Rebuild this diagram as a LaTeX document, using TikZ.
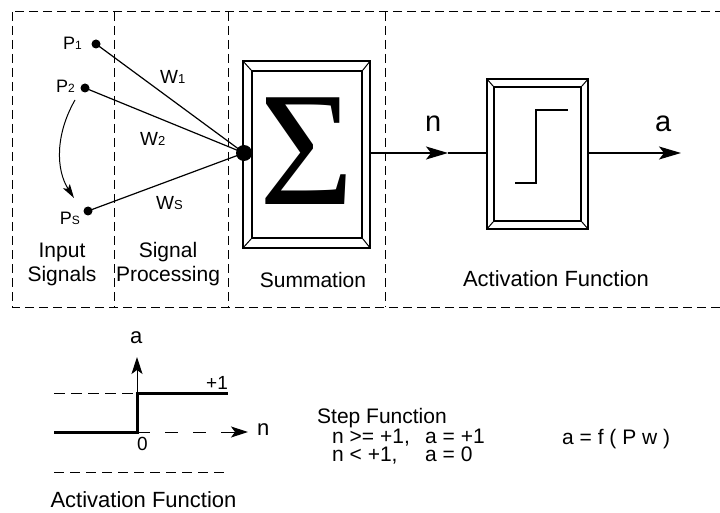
\documentclass[tikz,border=0pt]{standalone}
\usepackage{fontspec}
\setmainfont{Liberation Sans}
\newfontfamily\serifsig{Liberation Serif}
\usetikzlibrary{arrows.meta}
\newcommand\psub[1]{{\fontsize{12}{12}\selectfont #1}}
\newcommand\wsub[1]{{\fontsize{13}{13}\selectfont #1}}
\begin{document}
\begin{tikzpicture}[x=1pt,y=-1pt,line join=miter,
  region/.style={dash pattern=on 9pt off 5pt,line width=1pt},
  wire/.style={line width=1.2pt},
  thickline/.style={line width=3pt},
  txt/.style={inner sep=0pt,font=\fontsize{21}{24}\selectfont},
  bigtxt/.style={inner sep=0pt,font=\fontsize{29}{32}\selectfont},
  plab/.style={inner sep=0pt,anchor=base east,font=\fontsize{18}{18}\selectfont},
  wlab/.style={inner sep=0pt,anchor=base west,font=\fontsize{19}{19}\selectfont},
  dot/.style={circle,fill=black,inner sep=0pt,minimum size=9pt},
  bigdot/.style={circle,fill=black,inner sep=0pt,minimum size=16pt},
  frame/.style={draw,line width=1.2pt,inner sep=0pt},
  innerframe/.style={draw,line width=1.7pt,inner sep=0pt},
  bigtip/.style={-{Stealth[length=22pt,width=13pt,inset=5pt]}},
  smalltip/.style={-{Stealth[length=17pt,width=11pt,inset=4pt]}}
]
\useasboundingbox (0,0) rectangle (720,513);
% dashed regions
\draw[region] (12,12) rectangle (745,307);
\draw[region] (114,12) -- (114,307);
\draw[region] (228,12) -- (228,307);
\draw[region] (385,12) -- (385,307);

% input points
\node[dot] (p1) at (96,44) {};
\node[dot] (p2) at (85,88) {};
\node[dot] (ps) at (88,211) {};
\node[plab] (p1l) at (82,50) {P\psub{1}};
\node[plab] (p2l) at (75,93) {P\psub{2}};
\node[plab] (psl) at (80,225) {P\psub{S}};

% summation box
\node[frame,minimum width=127pt,minimum height=187pt] (sumout) at (306.5,154.5) {};
\node[innerframe,minimum width=110pt,minimum height=167pt] (sumin) at (307,154.5) {};
\foreach \c in {north west,north east,south west,south east}
  \draw[line width=1pt] (sumout.\c) -- (sumin.\c);
\node[inner sep=0pt,font=\serifsig\fontsize{163}{163}\selectfont] (sigma) at (307,151) {Σ};

% weight lines
\draw[wire] (p1.center) -- (244,153) coordinate (sumc);
\draw[wire] (p2.center) -- (sumc);
\draw[wire] (ps.center) -- (sumc);
\node[bigdot] (sumdot) at (sumc) {};
\node[wlab] (w1) at (160,84) {W\wsub{1}};
\node[wlab] (w2) at (140,146) {W\wsub{2}};
\node[wlab] (ws) at (156,210) {W\wsub{S}};

% curved arrow P2 -> Ps
\coordinate (cstart) at (75,100);
\coordinate (cend) at (74,198);
\draw[line width=1pt,-{Stealth[length=14pt,width=8pt,inset=3pt]}] (cstart) .. controls (55,135) and (56,170) .. (cend);

% activation box
\node[frame,minimum width=101pt,minimum height=150pt] (actout) at (537.5,154) {};
\node[innerframe,minimum width=87pt,minimum height=134pt] (actin) at (537.5,154) {};
\foreach \c in {north west,north east,south west,south east}
  \draw[line width=1pt] (actout.\c) -- (actin.\c);
\draw[line width=2.6pt] (515,183) -- (536,183) -- (536,110) -- (568,110);

% n and a arrows
\coordinate (nmid) at (448,153);
\draw[wire,bigtip] (sumout.east |- nmid) -- (nmid);
\draw[wire] (nmid) -- (actout.west |- nmid);
\coordinate (aend) at (681,153);
\draw[wire,bigtip] (actout.east |- aend) -- (aend);
\node[bigtxt,anchor=base west] (nlab) at (425,132) {n};
\node[bigtxt,anchor=base west] (alab) at (655,132) {a};

% region labels
\node[txt,align=center,anchor=base] (inlab) at (62,281) {Input\\Signals};
\node[txt,align=center,anchor=base] (splab) at (168,281) {Signal\\Processing};
\node[txt,anchor=base] (sumlab) at (313,287) {Summation};
\node[txt,font=\fontsize{22}{25}\selectfont,anchor=base] (actlab) at (556,286) {Activation Function};

% bottom graph
\coordinate (origin) at (137,432);
\coordinate (ytip) at (137,357);
\coordinate (xdash) at (230,432);
\coordinate (xtip) at (248,432);
\draw[line width=1pt,smalltip] (origin) -- (ytip);
\draw[line width=1pt,dash pattern=on 11pt off 6pt] (54,393) -- (137,393);
\draw[thickline,line cap=butt] (54,432) -- (origin) -- (137,393) -- (228,393);
\draw[line width=1pt,dash pattern=on 13pt off 15pt] (origin) -- (xdash);
\draw[line width=1pt,smalltip] (xdash) -- (xtip);
\draw[line width=1pt,dash pattern=on 10pt off 6pt] (54,472) -- (228,472);
\node[txt,font=\fontsize{22}{22}\selectfont,anchor=base west] (ga) at (130,343) {a};
\node[txt,font=\fontsize{22}{22}\selectfont,anchor=base west] (gn) at (257,435) {n};
\node[txt,font=\fontsize{19}{19}\selectfont,anchor=base west] (g0) at (137,450) {0};
\node[txt,font=\fontsize{19}{19}\selectfont,anchor=base west] (g1) at (206,389) {+1};
\node[txt,font=\fontsize{22}{22}\selectfont,anchor=base] (gact) at (143.5,507) {Activation Function};

% step function text
\node[txt,font=\fontsize{21}{18}\selectfont,align=left,anchor=base west] (steptxt) at (317,461)
  {Step Function\\\hspace*{15pt}\makebox[93pt][l]{n >= +1,}a = +1\\\hspace*{15pt}\makebox[93pt][l]{n < +1,}a = 0};
\node[txt,font=\fontsize{21}{21}\selectfont,anchor=base west] (fx) at (562,444) {a = f ( P w )};
\end{tikzpicture}
\end{document}
